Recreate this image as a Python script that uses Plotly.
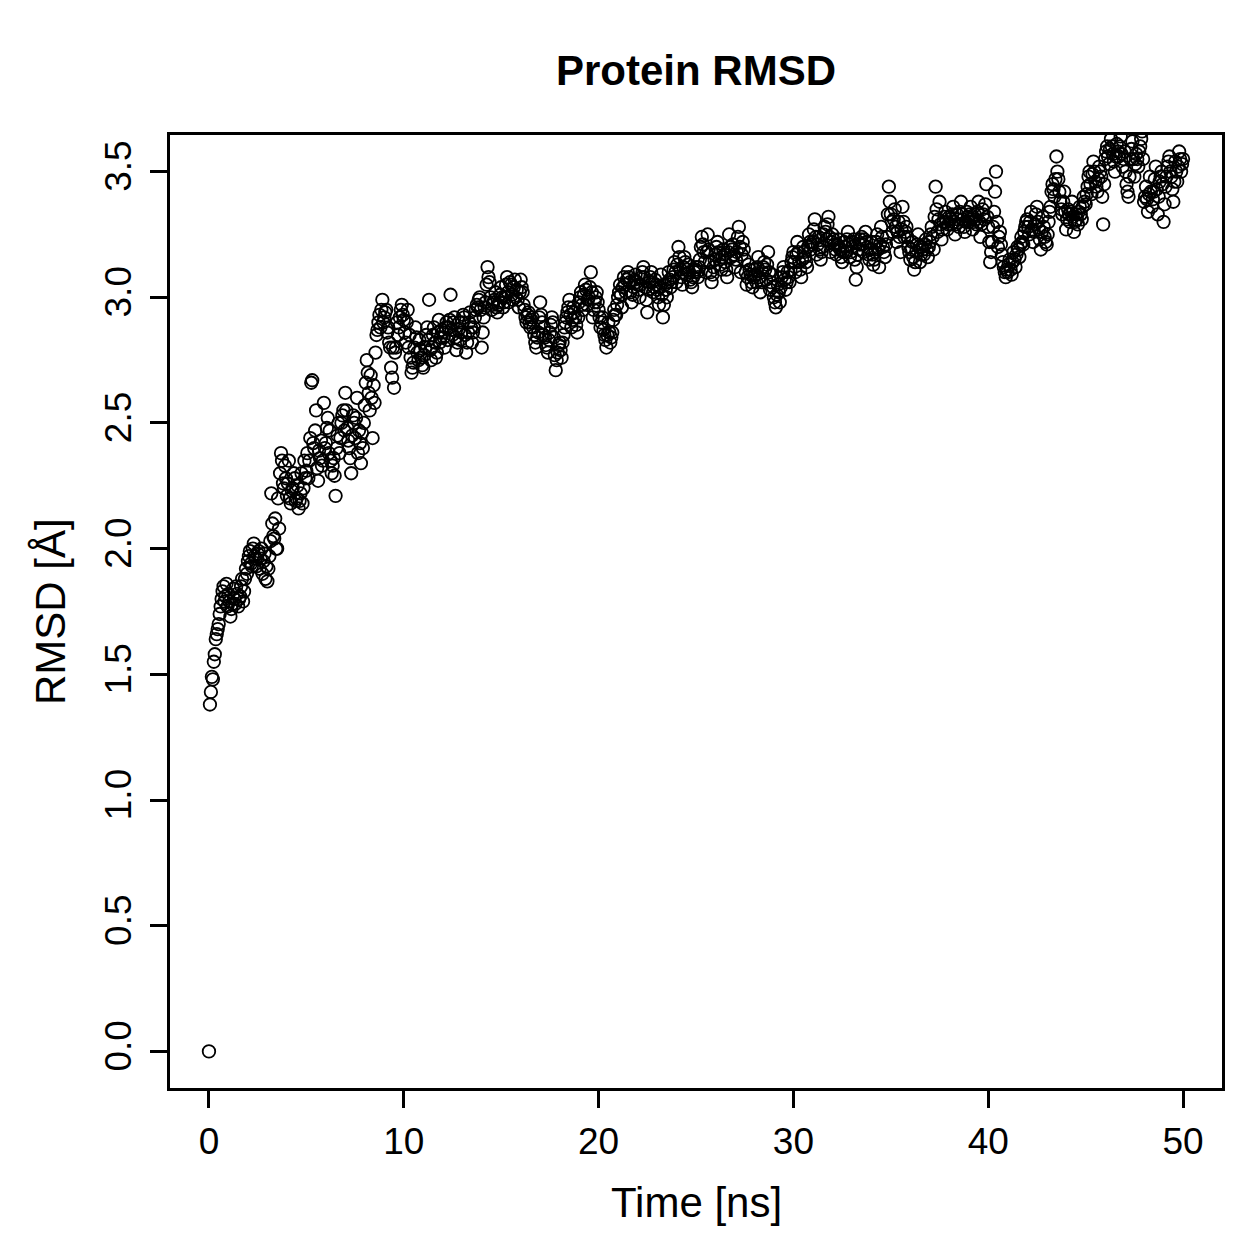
import plotly.graph_objects as go

# RMSD values, one row per nanosecond, frames at t = k + 0.0, 0.1, ..., 0.9 ns
rmsd_rows = [
    [0.00, 1.43, 1.48, 1.58, 1.66, 1.70, 1.77, 1.83, 1.79, 1.86],
    [1.82, 1.73, 1.78, 1.80, 1.85, 1.77, 1.81, 1.88, 1.83, 1.92],
    [1.95, 1.99, 1.93, 2.02, 1.96, 1.98, 1.92, 2.00, 1.95, 1.88],
    [1.87, 1.97, 2.22, 2.05, 2.12, 2.00, 2.08, 2.38, 2.26, 2.33],
    [2.21, 2.35, 2.18, 2.24, 2.28, 2.20, 2.16, 2.22, 2.18, 2.35],
    [2.31, 2.28, 2.44, 2.67, 2.40, 2.55, 2.27, 2.36, 2.33, 2.58],
    [2.42, 2.52, 2.47, 2.30, 2.36, 2.21, 2.45, 2.38, 2.50, 2.55],
    [2.62, 2.48, 2.40, 2.30, 2.53, 2.44, 2.60, 2.47, 2.34, 2.40],
    [2.57, 2.75, 2.62, 2.69, 2.44, 2.58, 2.85, 2.90, 2.88, 2.99],
    [2.92, 2.95, 2.88, 2.80, 2.68, 2.64, 2.80, 2.85, 2.92, 2.97],
    [2.91, 2.82, 2.95, 2.85, 2.70, 2.74, 2.88, 2.78, 2.83, 2.76],
    [2.72, 2.80, 2.88, 2.99, 2.75, 2.85, 2.82, 2.78, 2.91, 2.84],
    [2.86, 2.80, 2.90, 2.88, 3.01, 2.85, 2.92, 2.79, 2.87, 2.83],
    [2.90, 2.92, 2.78, 2.86, 2.94, 2.82, 2.88, 2.95, 2.96, 3.00],
    [2.80, 2.92, 2.98, 3.12, 3.06, 2.95, 2.98, 3.02, 2.94, 2.98],
    [3.04, 2.96, 3.00, 3.08, 2.98, 3.05, 2.99, 3.07, 3.03, 2.96],
    [3.07, 3.02, 2.95, 2.90, 2.94, 2.88, 2.92, 2.85, 2.80, 2.86],
    [2.98, 2.90, 2.88, 2.81, 2.78, 2.86, 2.92, 2.84, 2.71, 2.78],
    [2.82, 2.76, 2.85, 2.90, 2.94, 2.99, 2.88, 2.96, 2.92, 2.86],
    [2.98, 3.02, 2.95, 3.05, 2.97, 3.00, 3.10, 2.92, 2.98, 3.02],
    [2.95, 2.88, 2.92, 2.85, 2.80, 2.90, 2.82, 2.86, 2.95, 2.93],
    [3.00, 3.05, 2.96, 3.08, 3.02, 3.10, 3.06, 2.98, 3.04, 3.09],
    [3.05, 3.00, 3.08, 3.12, 3.04, 2.94, 3.06, 3.10, 3.02, 3.07],
    [3.03, 2.97, 3.09, 2.92, 3.05, 3.00, 3.10, 3.04, 3.08, 3.14],
    [3.06, 3.20, 3.11, 3.05, 3.16, 3.09, 3.13, 3.07, 3.04, 3.10],
    [3.12, 3.08, 3.15, 3.24, 3.18, 3.10, 3.25, 3.14, 3.06, 3.12],
    [3.17, 3.22, 3.15, 3.11, 3.19, 3.14, 3.08, 3.25, 3.16, 3.21],
    [3.12, 3.18, 3.28, 3.10, 3.22, 3.15, 3.05, 3.13, 3.09, 3.04],
    [3.11, 3.06, 3.16, 3.02, 3.10, 3.14, 3.07, 3.18, 3.03, 3.09],
    [3.00, 2.96, 3.05, 2.98, 3.08, 3.12, 3.03, 3.10, 3.06, 3.14],
    [3.18, 3.10, 3.22, 3.14, 3.08, 3.20, 3.16, 3.12, 3.25, 3.19],
    [3.22, 3.31, 3.17, 3.24, 3.15, 3.20, 3.28, 3.23, 3.32, 3.18],
    [3.25, 3.21, 3.17, 3.23, 3.19, 3.14, 3.22, 3.18, 3.26, 3.16],
    [3.20, 3.23, 3.07, 3.17, 3.21, 3.24, 3.18, 3.26, 3.20, 3.15],
    [3.22, 3.13, 3.18, 3.25, 3.12, 3.28, 3.20, 3.16, 3.24, 3.44],
    [3.33, 3.26, 3.35, 3.22, 3.30, 3.18, 3.36, 3.24, 3.28, 3.20],
    [3.15, 3.22, 3.11, 3.18, 3.25, 3.14, 3.20, 3.17, 3.23, 3.16],
    [3.22, 3.28, 3.19, 3.44, 3.26, 3.38, 3.23, 3.30, 3.34, 3.27],
    [3.32, 3.29, 3.36, 3.25, 3.33, 3.28, 3.38, 3.31, 3.26, 3.34],
    [3.30, 3.36, 3.27, 3.33, 3.29, 3.38, 3.24, 3.35, 3.31, 3.45],
    [3.28, 3.14, 3.22, 3.34, 3.50, 3.20, 3.26, 3.17, 3.12, 3.08],
    [3.10, 3.15, 3.09, 3.18, 3.12, 3.20, 3.16, 3.24, 3.21, 3.28],
    [3.31, 3.25, 3.34, 3.22, 3.29, 3.36, 3.27, 3.19, 3.32, 3.24],
    [3.21, 3.30, 3.36, 3.45, 3.40, 3.56, 3.47, 3.38, 3.33, 3.42],
    [3.27, 3.35, 3.30, 3.38, 3.26, 3.33, 3.29, 3.36, 3.31, 3.40],
    [3.37, 3.44, 3.50, 3.41, 3.54, 3.46, 3.42, 3.52, 3.48, 3.29],
    [3.55, 3.60, 3.53, 3.63, 3.57, 3.50, 3.61, 3.56, 3.64, 3.52],
    [3.58, 3.45, 3.40, 3.55, 3.62, 3.48, 3.57, 3.52, 3.60, 3.66],
    [3.38, 3.44, 3.34, 3.48, 3.36, 3.42, 3.52, 3.33, 3.46, 3.50],
    [3.30, 3.44, 3.52, 3.56, 3.48, 3.38, 3.54, 3.46, 3.58, 3.50],
    [3.55],
]

# RMSD values for the in-between frames, t = k + 0.05, 0.15, ..., 0.95 ns
rmsd_half_rows = [
    [1.38, 1.49, 1.55, 1.64, 1.68, 1.74, 1.80, 1.85, 1.81, 1.77],
    [1.79, 1.76, 1.84, 1.78, 1.82, 1.80, 1.85, 1.79, 1.88, 1.90],
    [1.97, 1.94, 2.00, 1.97, 1.93, 1.99, 1.96, 1.90, 1.98, 1.93],
    [1.92, 2.03, 2.10, 2.04, 2.00, 2.20, 2.30, 2.35, 2.24, 2.28],
    [2.26, 2.20, 2.23, 2.30, 2.19, 2.25, 2.19, 2.30, 2.24, 2.28],
    [2.38, 2.35, 2.66, 2.42, 2.47, 2.32, 2.39, 2.43, 2.35, 2.40],
    [2.48, 2.38, 2.35, 2.33, 2.29, 2.40, 2.50, 2.44, 2.53, 2.47],
    [2.55, 2.43, 2.36, 2.45, 2.50, 2.52, 2.38, 2.42, 2.46, 2.50],
    [2.66, 2.70, 2.55, 2.60, 2.65, 2.78, 2.87, 2.93, 2.95, 2.90],
    [2.94, 2.86, 2.82, 2.72, 2.80, 2.78, 2.90, 2.88, 2.95, 2.93],
    [2.86, 2.90, 2.80, 2.76, 2.72, 2.80, 2.84, 2.75, 2.79, 2.73],
    [2.77, 2.85, 2.83, 2.79, 2.80, 2.88, 2.76, 2.86, 2.82, 2.87],
    [2.84, 2.88, 2.83, 2.91, 2.87, 2.90, 2.84, 2.82, 2.90, 2.86],
    [2.93, 2.85, 2.82, 2.90, 2.88, 2.86, 2.92, 2.97, 2.99, 2.95],
    [2.86, 2.96, 3.05, 3.08, 3.00, 2.97, 2.99, 2.96, 2.97, 3.01],
    [3.00, 2.98, 3.05, 3.02, 3.06, 3.01, 3.04, 3.00, 2.99, 3.02],
    [3.04, 2.97, 2.92, 2.93, 2.90, 2.91, 2.88, 2.82, 2.84, 2.92],
    [2.93, 2.85, 2.84, 2.80, 2.83, 2.89, 2.90, 2.77, 2.75, 2.81],
    [2.79, 2.82, 2.88, 2.92, 2.96, 2.93, 2.91, 2.94, 2.89, 2.92],
    [3.00, 2.97, 3.01, 3.03, 2.99, 3.04, 3.02, 2.95, 3.00, 2.98],
    [2.92, 2.90, 2.87, 2.83, 2.85, 2.86, 2.84, 2.91, 2.93, 2.97],
    [3.02, 3.01, 3.04, 3.05, 3.07, 3.08, 3.02, 3.01, 3.07, 3.06],
    [3.03, 3.05, 3.10, 3.08, 2.99, 3.03, 3.08, 3.06, 3.04, 3.05],
    [3.00, 3.04, 3.01, 2.97, 3.03, 3.06, 3.07, 3.06, 3.11, 3.10],
    [3.13, 3.16, 3.08, 3.12, 3.14, 3.11, 3.10, 3.06, 3.08, 3.11],
    [3.10, 3.12, 3.20, 3.21, 3.14, 3.18, 3.19, 3.10, 3.09, 3.15],
    [3.20, 3.18, 3.13, 3.16, 3.17, 3.11, 3.18, 3.20, 3.19, 3.17],
    [3.15, 3.24, 3.20, 3.17, 3.19, 3.10, 3.08, 3.11, 3.06, 3.08],
    [3.09, 3.12, 3.08, 3.06, 3.12, 3.11, 3.13, 3.10, 3.06, 3.04],
    [2.98, 3.01, 3.02, 3.04, 3.10, 3.07, 3.06, 3.08, 3.11, 3.16],
    [3.14, 3.17, 3.18, 3.11, 3.15, 3.18, 3.14, 3.20, 3.22, 3.21],
    [3.27, 3.24, 3.21, 3.19, 3.18, 3.25, 3.26, 3.29, 3.24, 3.22],
    [3.23, 3.19, 3.21, 3.20, 3.16, 3.18, 3.20, 3.23, 3.21, 3.18],
    [3.22, 3.15, 3.12, 3.19, 3.23, 3.21, 3.23, 3.22, 3.17, 3.19],
    [3.17, 3.15, 3.22, 3.19, 3.21, 3.24, 3.18, 3.21, 3.33, 3.38],
    [3.30, 3.31, 3.28, 3.26, 3.24, 3.27, 3.30, 3.26, 3.24, 3.18],
    [3.19, 3.16, 3.14, 3.21, 3.20, 3.17, 3.19, 3.21, 3.19, 3.20],
    [3.25, 3.24, 3.32, 3.35, 3.31, 3.29, 3.27, 3.32, 3.30, 3.29],
    [3.31, 3.33, 3.30, 3.29, 3.31, 3.34, 3.33, 3.28, 3.30, 3.32],
    [3.33, 3.31, 3.30, 3.31, 3.34, 3.30, 3.29, 3.33, 3.37, 3.32],
    [3.22, 3.18, 3.28, 3.42, 3.30, 3.24, 3.21, 3.14, 3.10, 3.11],
    [3.13, 3.11, 3.14, 3.15, 3.17, 3.19, 3.21, 3.22, 3.26, 3.30],
    [3.28, 3.30, 3.27, 3.26, 3.33, 3.30, 3.23, 3.26, 3.28, 3.22],
    [3.25, 3.34, 3.42, 3.43, 3.47, 3.50, 3.42, 3.35, 3.38, 3.34],
    [3.31, 3.33, 3.34, 3.32, 3.30, 3.31, 3.34, 3.33, 3.36, 3.38],
    [3.41, 3.48, 3.45, 3.49, 3.50, 3.44, 3.47, 3.50, 3.40, 3.45],
    [3.58, 3.56, 3.59, 3.60, 3.54, 3.56, 3.58, 3.60, 3.57, 3.55],
    [3.50, 3.42, 3.48, 3.59, 3.55, 3.53, 3.55, 3.58, 3.63, 3.55],
    [3.40, 3.39, 3.41, 3.42, 3.39, 3.47, 3.43, 3.40, 3.48, 3.45],
    [3.37, 3.48, 3.54, 3.50, 3.43, 3.46, 3.50, 3.52, 3.55, 3.53],
]

frames = []
for k, row in enumerate(rmsd_rows):
    for j, v in enumerate(row):
        frames.append((round(k + 0.1 * j, 2), v))
for k, row in enumerate(rmsd_half_rows):
    for j, v in enumerate(row):
        frames.append((round(k + 0.05 + 0.1 * j, 2), v))
frames.sort()
time_ns = [t for t, _ in frames]
rmsd = [v for _, v in frames]

x_ticks = [0, 10, 20, 30, 40, 50]
y_ticks = [0.0, 0.5, 1.0, 1.5, 2.0, 2.5, 3.0, 3.5]
y_tick_labels = ["0.0", "0.5", "1.0", "1.5", "2.0", "2.5", "3.0", "3.5"]

FONT = "Liberation Sans, Arial, Helvetica, sans-serif"
W, H = 1259, 1259
L, R, T, B = 170, 37, 135, 171
pw, ph = W - L - R, H - T - B


def paper(px, py):
    return (px - L) / pw, 1 - (py - T) / ph


fig = go.Figure()
fig.add_trace(go.Scatter(
    x=time_ns, y=rmsd, mode="markers",
    marker=dict(symbol="circle-open", size=12.5, color="black",
                line=dict(color="black", width=1.8)),
    showlegend=False,
))

tx, ty = paper(696, 70)
xx, xy = paper(696, 1202)
yx, yy = paper(50, 612)

fig.update_layout(
    width=W, height=H,
    margin=dict(l=L, r=R, t=T, b=B),
    paper_bgcolor="white", plot_bgcolor="white",
    font=dict(family=FONT, size=37, color="black"),
    xaxis=dict(range=[-2, 52], tickvals=x_ticks, ticks="outside", ticklen=17,
               tickwidth=2.5, tickcolor="black", showgrid=False, zeroline=False,
               showline=True, linecolor="black", linewidth=2.5, mirror=True,
               tickfont=dict(size=37), ticklabelstandoff=2),
    yaxis=dict(range=[-0.1456, 3.6456], tickvals=y_ticks, ticktext=y_tick_labels,
               ticks="outside", ticklen=17, tickwidth=2.5, tickcolor="black",
               showgrid=False, zeroline=False, showline=True, linecolor="black",
               linewidth=2.5, mirror=True, tickangle=-90,
               tickfont=dict(size=37), ticklabelstandoff=4),
    annotations=[
        dict(text="<b>Protein RMSD</b>", x=tx, y=ty, xref="paper", yref="paper",
             xanchor="center", yanchor="middle", showarrow=False,
             font=dict(size=42)),
        dict(text="Time [ns]", x=xx, y=xy, xref="paper", yref="paper",
             xanchor="center", yanchor="middle", showarrow=False,
             font=dict(size=42)),
        dict(text="RMSD [Å]", x=yx, y=yy, xref="paper", yref="paper",
             xanchor="center", yanchor="middle", showarrow=False,
             textangle=-90, font=dict(size=42)),
    ],
)

fig.write_html("out.html")
